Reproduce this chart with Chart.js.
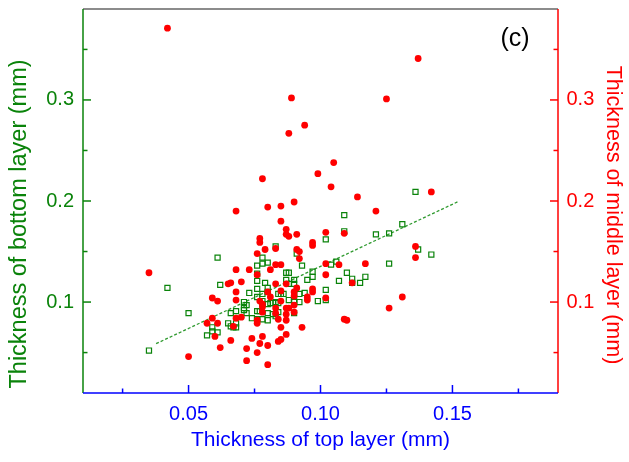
<!DOCTYPE html>
<html><head><meta charset="utf-8">
<script src="https://cdn.jsdelivr.net/npm/chart.js@4/dist/chart.umd.min.js"></script>
<style>html,body{margin:0;padding:0;background:#fff}#wrap{width:629px;height:462px;position:relative}</style>
</head><body><div id="wrap"><canvas id="c" width="629" height="462"></canvas></div>
<script>
// Thickness of top layer (x) vs thickness of middle layer (right axis, red dots)
const middleX = [0.042,0.137,0.089,0.125,0.094,0.088,0.105,0.099,0.078,0.104,0.114,0.068,0.080,0.085,0.090,0.121,0.142,0.085,0.087,0.087,0.088,0.091,0.102,0.109,0.077,0.077,0.097,0.097,0.079,0.083,0.091,0.092,0.076,0.092,0.083,0.085,0.102,0.107,0.117,0.068,0.073,0.081,0.035,0.076,0.102,0.070,0.065,0.066,0.083,0.087,0.112,0.097,0.097,0.068,0.080,0.085,0.090,0.091,0.090,0.095,0.095,0.102,0.059,0.061,0.068,0.077,0.081,0.131,0.078,0.078,0.085,0.090,0.083,0.087,0.088,0.126,0.078,0.083,0.087,0.090,0.070,0.068,0.059,0.076,0.076,0.084,0.087,0.109,0.110,0.057,0.061,0.067,0.085,0.093,0.087,0.060,0.078,0.066,0.074,0.077,0.084,0.085,0.062,0.072,0.080,0.076,0.050,0.072,0.080,0.136,0.136];
const middleY = [0.371,0.341,0.302,0.301,0.275,0.267,0.238,0.227,0.222,0.214,0.204,0.190,0.194,0.195,0.199,0.190,0.209,0.180,0.172,0.167,0.165,0.167,0.169,0.168,0.163,0.159,0.159,0.156,0.152,0.153,0.152,0.150,0.148,0.143,0.137,0.137,0.138,0.137,0.138,0.132,0.132,0.132,0.129,0.127,0.127,0.120,0.118,0.119,0.118,0.118,0.119,0.113,0.110,0.110,0.110,0.111,0.110,0.114,0.106,0.105,0.102,0.104,0.104,0.101,0.102,0.101,0.105,0.105,0.098,0.095,0.101,0.097,0.094,0.094,0.094,0.094,0.090,0.089,0.088,0.090,0.085,0.084,0.084,0.082,0.079,0.083,0.082,0.083,0.082,0.079,0.079,0.076,0.075,0.075,0.068,0.066,0.066,0.062,0.064,0.059,0.061,0.063,0.055,0.054,0.057,0.050,0.046,0.042,0.038,0.155,0.144];
// Thickness of top layer (x) vs thickness of bottom layer (left axis, green squares)
const bottomX = [0.035,0.042,0.050,0.061,0.062,0.059,0.059,0.061,0.057,0.066,0.068,0.071,0.072,0.074,0.076,0.076,0.065,0.066,0.068,0.067,0.068,0.073,0.076,0.071,0.072,0.071,0.076,0.076,0.076,0.076,0.078,0.080,0.078,0.083,0.079,0.078,0.084,0.078,0.080,0.082,0.084,0.077,0.080,0.082,0.080,0.078,0.078,0.080,0.080,0.102,0.091,0.093,0.087,0.088,0.097,0.097,0.095,0.110,0.107,0.112,0.112,0.115,0.117,0.087,0.090,0.090,0.088,0.085,0.086,0.092,0.094,0.102,0.102,0.099,0.092,0.090,0.090,0.088,0.083,0.081,0.084,0.083,0.090,0.104,0.106,0.109,0.136,0.131,0.121,0.126,0.109,0.137,0.142,0.126];
const bottomY = [0.052,0.114,0.089,0.144,0.117,0.075,0.071,0.070,0.067,0.089,0.091,0.092,0.089,0.084,0.091,0.083,0.079,0.076,0.079,0.075,0.075,0.109,0.105,0.100,0.097,0.094,0.136,0.128,0.121,0.113,0.144,0.139,0.138,0.155,0.119,0.108,0.108,0.098,0.098,0.099,0.099,0.091,0.089,0.088,0.082,0.101,0.083,0.114,0.110,0.162,0.148,0.136,0.129,0.129,0.130,0.125,0.122,0.129,0.121,0.123,0.119,0.119,0.125,0.122,0.122,0.118,0.118,0.108,0.108,0.108,0.109,0.112,0.102,0.101,0.100,0.102,0.100,0.102,0.100,0.099,0.090,0.086,0.089,0.137,0.140,0.186,0.209,0.177,0.167,0.168,0.170,0.152,0.147,0.138];
// Linear fit of bottom layer vs top layer (end points)
const fitX = [0.0377, 0.1524];
const fitY = [0.0588, 0.1997];
// Axis ticks
const xMajorTicks = [0.05, 0.10, 0.15];
const xMinorTicks = [0.025, 0.075, 0.125, 0.175];
const yMajorTicks = [0.1, 0.2, 0.3];
const yMinorTicks = [0.05, 0.15, 0.25, 0.35];

const GREEN = '#0a830a', RED = '#ff0000', BLUE = '#0000ff';
const FONT = '"Liberation Sans", Arial, sans-serif';

const toPts = (xs, ys) => xs.map((x, i) => ({x, y: ys[i]}));

const decor = {
  id: 'decor',
  afterDraw(chart) {
    const ctx = chart.ctx, ca = chart.chartArea;
    const sx = chart.scales.x, sy = chart.scales.y, sy2 = chart.scales.y2;
    ctx.save();
    ctx.lineWidth = 1.5;
    ctx.strokeStyle = '#666666';
    ctx.beginPath(); ctx.moveTo(ca.left, ca.top); ctx.lineTo(ca.right, ca.top); ctx.stroke();
    ctx.strokeStyle = GREEN;
    ctx.beginPath(); ctx.moveTo(ca.left, ca.top); ctx.lineTo(ca.left, ca.bottom); ctx.stroke();
    yMajorTicks.forEach(v => { const p = sy.getPixelForValue(v); ctx.beginPath(); ctx.moveTo(ca.left, p); ctx.lineTo(ca.left + 8, p); ctx.stroke(); });
    yMinorTicks.forEach(v => { const p = sy.getPixelForValue(v); ctx.beginPath(); ctx.moveTo(ca.left, p); ctx.lineTo(ca.left + 4.5, p); ctx.stroke(); });
    ctx.strokeStyle = RED;
    ctx.beginPath(); ctx.moveTo(ca.right, ca.top); ctx.lineTo(ca.right, ca.bottom); ctx.stroke();
    yMajorTicks.forEach(v => { const p = sy2.getPixelForValue(v); ctx.beginPath(); ctx.moveTo(ca.right, p); ctx.lineTo(ca.right - 8, p); ctx.stroke(); });
    yMinorTicks.forEach(v => { const p = sy2.getPixelForValue(v); ctx.beginPath(); ctx.moveTo(ca.right, p); ctx.lineTo(ca.right - 4.5, p); ctx.stroke(); });
    ctx.strokeStyle = BLUE;
    ctx.beginPath(); ctx.moveTo(ca.left, ca.bottom); ctx.lineTo(ca.right, ca.bottom); ctx.stroke();
    xMajorTicks.forEach(v => { const p = sx.getPixelForValue(v); ctx.beginPath(); ctx.moveTo(p, ca.bottom); ctx.lineTo(p, ca.bottom - 8); ctx.stroke(); });
    xMinorTicks.forEach(v => { const p = sx.getPixelForValue(v); ctx.beginPath(); ctx.moveTo(p, ca.bottom); ctx.lineTo(p, ca.bottom - 4.5); ctx.stroke(); });
    ctx.textAlign = 'center'; ctx.textBaseline = 'middle';
    ctx.font = '21px ' + FONT;
    ctx.fillStyle = BLUE;
    ctx.fillText('Thickness of top layer (mm)', 320.5, 440);
    ctx.save(); ctx.translate(613, 215); ctx.rotate(Math.PI / 2);
    ctx.font = '21.5px ' + FONT;
    ctx.fillStyle = RED; ctx.fillText('Thickness of middle layer (mm)', 0, 0); ctx.restore();
    ctx.save(); ctx.translate(20, 224); ctx.rotate(-Math.PI / 2);
    ctx.font = '23.5px ' + FONT;
    ctx.fillStyle = GREEN; ctx.fillText('Thickness of bottom layer (mm)', 0, 0); ctx.restore();
    ctx.font = '25px ' + FONT; ctx.fillStyle = '#000';
    ctx.fillText('(c)', 515, 39);
    ctx.restore();
  }
};

const setTicks = arr => scale => { scale.ticks = arr.map(v => ({value: v})); };
const noPad = s => { s.paddingTop = 0; s.paddingBottom = 0; s.paddingLeft = 0; s.paddingRight = 0; };

new Chart(document.getElementById('c'), {
  type: 'scatter',
  data: {
    datasets: [
      { label: 'middle', data: toPts(middleX, middleY), yAxisID: 'y2',
        pointStyle: 'circle', pointRadius: 3.4, pointHoverRadius: 3.4,
        backgroundColor: RED, borderColor: RED, borderWidth: 0 },
      { label: 'bottom', data: toPts(bottomX, bottomY), yAxisID: 'y',
        pointStyle: 'rect', pointRadius: 3.6, pointHoverRadius: 3.6,
        backgroundColor: 'rgba(255,255,255,0)', borderColor: GREEN, borderWidth: 1.2 },
      { type: 'line', label: 'fit', data: toPts(fitX, fitY), yAxisID: 'y',
        borderColor: '#2f9a2f', borderWidth: 1.3, borderDash: [3, 2],
        pointRadius: 0, fill: false, showLine: true }
    ]
  },
  options: {
    responsive: false, animation: false, devicePixelRatio: 1,
    layout: { padding: { top: 9, left: 0, right: 0, bottom: 0 } },
    plugins: { legend: { display: false }, tooltip: { enabled: false } },
    scales: {
      x: { type: 'linear', position: 'bottom', min: 0.01, max: 0.19,
        afterBuildTicks: setTicks(xMajorTicks),
        afterFit: s => { s.height = 69; noPad(s); },
        grid: { display: false, drawTicks: false }, border: { display: false },
        ticks: { color: BLUE, padding: 9, font: { family: FONT, size: 20 }, maxRotation: 0,
          callback: v => Number(v).toFixed(2) } },
      y: { type: 'linear', position: 'left', min: 0.01, max: 0.39,
        afterBuildTicks: setTicks(yMajorTicks),
        afterFit: s => { s.width = 83; noPad(s); },
        grid: { display: false, drawTicks: false }, border: { display: false },
        ticks: { color: GREEN, padding: 9, font: { family: FONT, size: 20 },
          callback: v => Number(v).toFixed(1) } },
      y2: { type: 'linear', position: 'right', min: 0.01, max: 0.39,
        afterBuildTicks: setTicks(yMajorTicks),
        afterFit: s => { s.width = 71; noPad(s); },
        grid: { display: false, drawTicks: false }, border: { display: false },
        ticks: { color: RED, padding: 8.5, font: { family: FONT, size: 20 },
          callback: v => Number(v).toFixed(1) } }
    }
  },
  plugins: [decor]
});
</script></body></html>
